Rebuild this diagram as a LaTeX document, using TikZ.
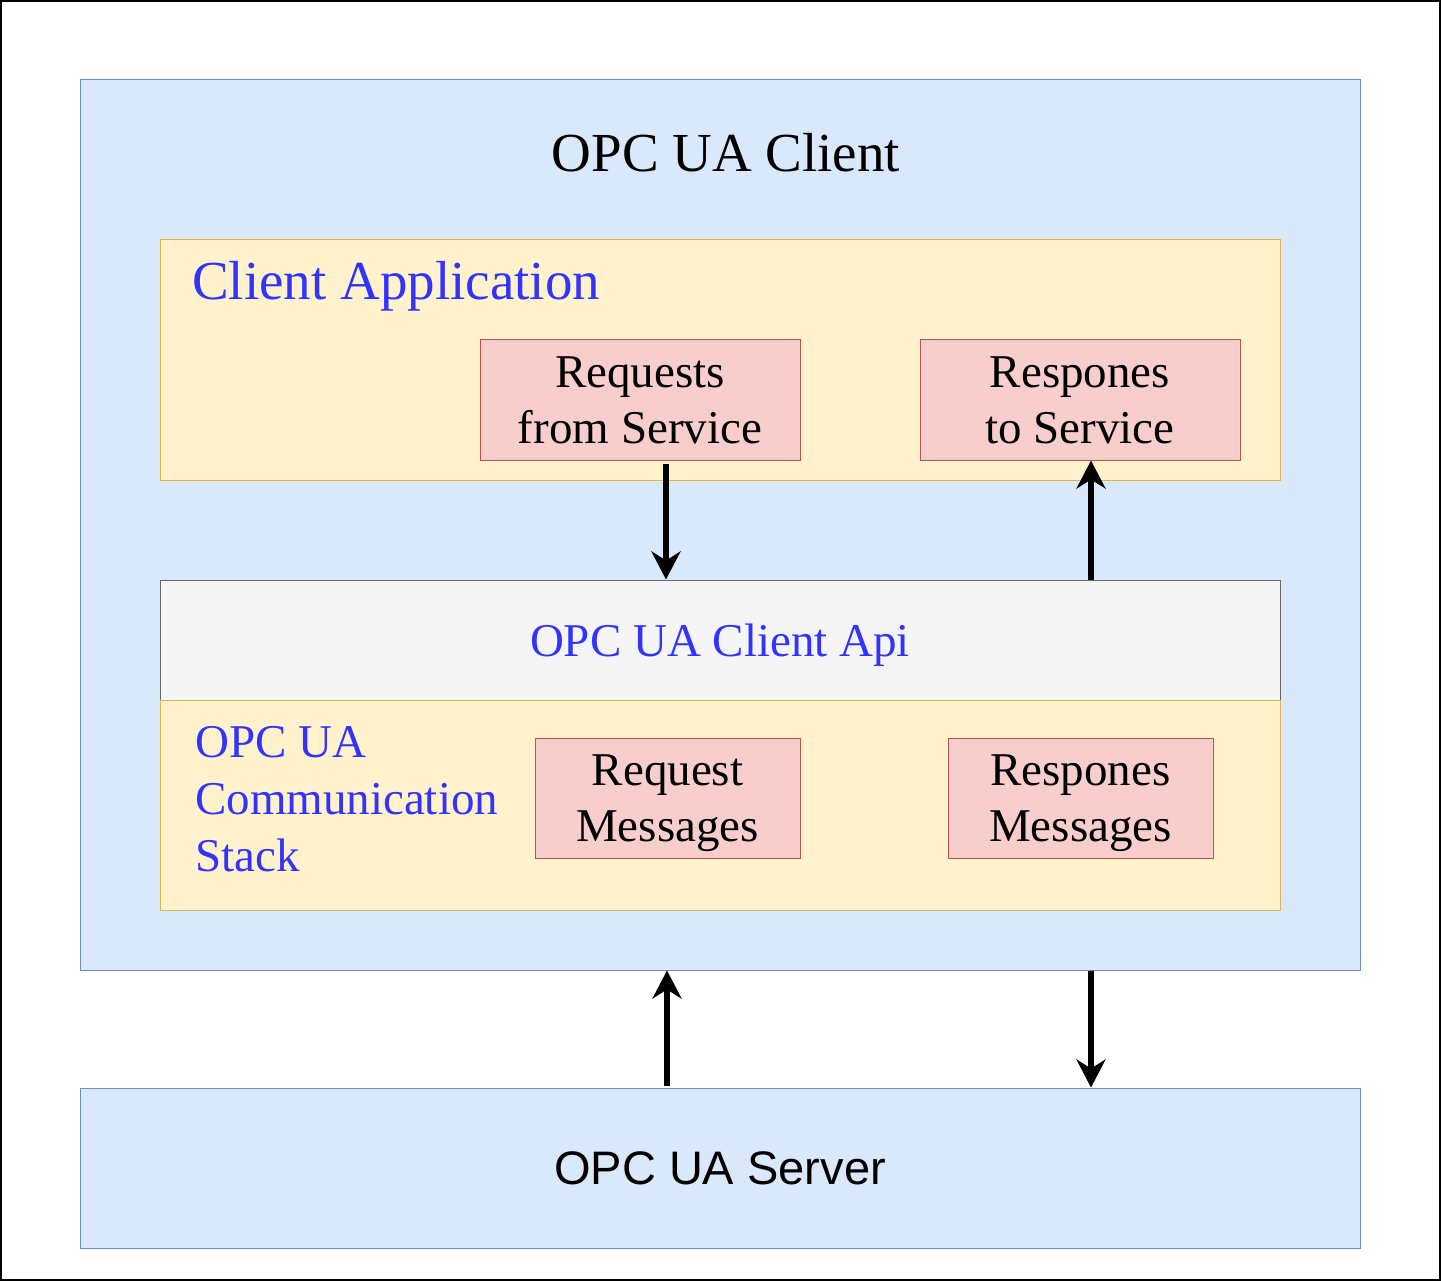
\documentclass[tikz,border=0pt]{standalone}
\usepackage{fontspec}
\setmainfont{Liberation Serif}
\newfontfamily\serverfont{Liberation Sans}
\usetikzlibrary{arrows.meta}
\definecolor{bluefill}{HTML}{DAE8FC}
\definecolor{blueline}{HTML}{6C8EBF}
\definecolor{yellowfill}{HTML}{FFF2CC}
\definecolor{yellowline}{HTML}{D6B656}
\definecolor{redfill}{HTML}{F8CECC}
\definecolor{redline}{HTML}{B85450}
\definecolor{greyfill}{HTML}{F5F5F5}
\definecolor{greyline}{HTML}{666666}
\definecolor{bluetext}{HTML}{3333FF}
\newcommand{\bigtext}{\fontsize{47}{56}\selectfont}
\newcommand{\titletext}{\fontsize{55}{66}\selectfont}

\begin{document}
\begin{tikzpicture}[
		x=1pt, y=-1pt,
		bluebox/.style={draw=blueline, fill=bluefill, line width=1pt},
		yellowbox/.style={draw=yellowline, fill=yellowfill, line width=1pt},
		greybox/.style={draw=greyline, fill=greyfill, line width=1pt},
		redbox/.style={draw=redline, fill=redfill, line width=1pt,
			minimum height=120pt, align=center, font=\bigtext},
		flow/.style={line width=6pt, -{Stealth[length=28pt,width=29pt,inset=9pt]}},
%		msgbox/.style={redbox, minimum width=265pt}
		]
		\useasboundingbox (0,0) rectangle (1441,1281);
		\node[draw, line width=2pt, minimum width=1439pt, minimum height=1279pt] (frame) at (720.5,640.5) {};

		\node[bluebox, minimum width=1280pt, minimum height=890pt] (client) at (720,525) {};
		\node[anchor=base, inner sep=0pt, font=\titletext] (clienttitle) at (726,172) {OPC UA Client};

		\node[yellowbox, minimum width=1120pt, minimum height=240pt] (app) at (720,360) {};
		\node[anchor=base west, inner sep=0pt, font=\titletext, text=bluetext] (apptitle) at (192,300) {Client Application};
		\node[redbox, minimum width=320pt] (reqsvc) at (640,400) {Requests\\from Service};
		\node[redbox, minimum width=320pt] (ressvc) at (1080,400) {Respones\\to Service};

		\node[greybox, minimum width=1120pt, minimum height=120pt, text depth=0pt,
			font=\bigtext, text=bluetext] (api) at (720,640) {OPC UA Client Api};

		\node[yellowbox, minimum width=1120pt, minimum height=210pt] (stack) at (720,805) {};
		\node[anchor=north west, inner sep=0pt, align=left, font=\fontsize{47}{57}\selectfont,
			text=bluetext] (stacktitle) at (195,726) {OPC UA\\Communication\\Stack};
		\node[redbox, minimum width=265pt, text depth=0pt] (reqmsg) at (667.5,798) {Request\\Messages};
		\node[redbox, minimum width=265pt, text depth=0pt] (resmsg) at (1080.5,798) {Respones\\Messages};

		\node[bluebox, minimum width=1280pt, minimum height=160pt, font=\serverfont\bigtext] (server) at (720,1168) {OPC UA Server};

		\draw[flow, shorten <=3pt] ([xshift=26pt]reqsvc.south) -- ([xshift=26pt]reqsvc.south |- api.north);
		\draw[flow] ([xshift=11pt]ressvc.south |- api.north) -- ([xshift=11pt]ressvc.south);
		\draw[flow, shorten <=2pt] ([xshift=-53pt]server.north) -- ([xshift=-53pt]client.south);
		\draw[flow] ([xshift=371pt]client.south) -- ([xshift=371pt]server.north);
\end{tikzpicture}
\end{document}
